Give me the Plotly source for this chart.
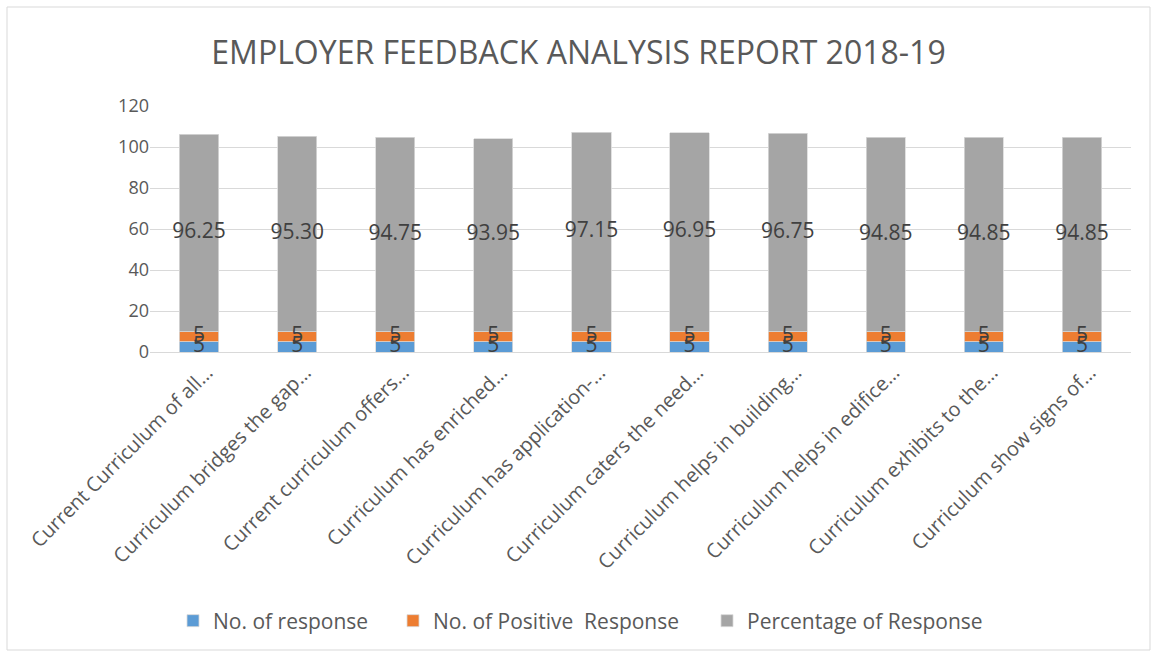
import plotly.graph_objects as go

categories = [
    "Current Curriculum of all…",
    "Curriculum bridges the gap…",
    "Current curriculum offers…",
    "Curriculum has enriched…",
    "Curriculum has application-…",
    "Curriculum caters the need…",
    "Curriculum helps in building…",
    "Curriculum helps in edifice…",
    "Curriculum exhibits to the…",
    "Curriculum show signs of…",
]
no_of_response = [5, 5, 5, 5, 5, 5, 5, 5, 5, 5]
no_of_positive = [5, 5, 5, 5, 5, 5, 5, 5, 5, 5]
percentage = [96.25, 95.30, 94.75, 93.95, 97.15, 96.95, 96.75, 94.85, 94.85, 94.85]
y_ticks = [0, 20, 40, 60, 80, 100, 120]

FONT = "'Open Sans', 'Noto Sans', sans-serif"
label_font = dict(family=FONT, size=21, color="#404040")

L, R, T, B = 150, 26, 106, 305
W, H = 1157, 657
pw, ph = W - L - R, H - T - B

fig = go.Figure()
series = [
    ("No. of response", no_of_response, "#5B9BD5", "legend", 215),
    ("No. of Positive  Response", no_of_positive, "#ED7D31", "legend2", 435),
    ("Percentage of Response", percentage, "#A5A5A5", "legend3", 749),
]
for name, vals, color, lg, _ in series:
    fig.add_trace(go.Bar(
        name=name, x=categories, y=vals, legend=lg,
        marker=dict(color=color, line=dict(color="#d9d9d9", width=0.8)),
    ))

# data labels, centred in each stacked segment
base = [0] * len(categories)
for i, (name, vals, color, lg, _) in enumerate(series):
    mids = [b + v / 2 for b, v in zip(base, vals)]
    labels = [f"{v:.2f}" if i == 2 else f"{v:g}" for v in vals]
    fig.add_trace(go.Scatter(
        x=categories, y=mids, text=labels, mode="text",
        textposition="middle center", textfont=label_font,
        showlegend=False, hoverinfo="skip", cliponaxis=False,
    ))
    base = [b + v for b, v in zip(base, vals)]

legend_y = (352 - 621) / ph
legend_common = dict(orientation="h", xanchor="left", y=legend_y, yanchor="middle",
                     font=dict(family=FONT, size=21, color="#595959"),
                     bgcolor="rgba(0,0,0,0)")
legends = {}
for (_, _, _, lg, text_x) in series:
    legends[lg] = dict(legend_common, x=(text_x - 42 - L) / pw)

fig.update_layout(
    barmode="stack",
    bargap=0.6,
    width=W, height=H,
    margin=dict(l=L, r=R, t=T, b=B),
    paper_bgcolor="white", plot_bgcolor="white",
    font=dict(family=FONT, color="#595959"),
    title=dict(text="EMPLOYER FEEDBACK ANALYSIS REPORT 2018-19",
               x=0.5, xanchor="center", y=1 - 53 / H, yanchor="middle",
               font=dict(family=FONT, size=32, color="#595959")),
    xaxis=dict(tickangle=-45, tickfont=dict(family=FONT, size=20, color="#595959"),
               showgrid=False, showline=True, linecolor="#d9d9d9", linewidth=1,
               ticks="", ticklen=0, ticklabelshift=8),
    yaxis=dict(range=[0, 120], tickvals=y_ticks, showgrid=True, gridcolor="#d9d9d9",
               gridwidth=1, zeroline=False, showline=False,
               tickfont=dict(family=FONT, size=18, color="#595959"), ticks=""),
    showlegend=True,
    **legends,
)

fig.add_shape(type="rect", xref="paper", yref="paper",
              x0=(7 - L) / pw, x1=(1150 - L) / pw,
              y0=(H - B - 650) / ph, y1=(H - B - 7) / ph,
              line=dict(color="#d9d9d9", width=1), layer="below")

fig.write_html("out.html", post_script="document.body.style.margin='0';",
               config={"displayModeBar": False})
